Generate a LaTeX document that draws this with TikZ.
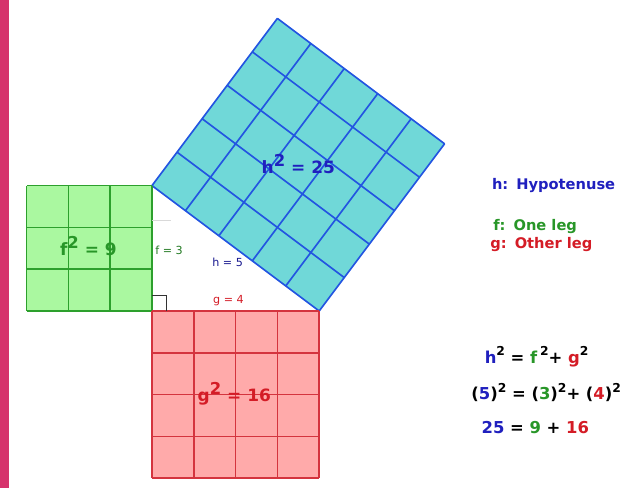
\documentclass[tikz,border=0pt]{standalone}
\usepackage{fontspec}
\setmainfont{DejaVu Sans}
\usetikzlibrary{positioning}

\definecolor{stripe}{RGB}{214,51,108}
\definecolor{hfill}{RGB}{112,216,216}
\definecolor{hline}{RGB}{35,85,225}
\definecolor{ffill}{RGB}{170,248,160}
\definecolor{fline}{RGB}{45,160,45}
\definecolor{gfill}{RGB}{255,170,170}
\definecolor{gline}{RGB}{212,52,62}
\definecolor{htext}{RGB}{32,32,190}
\definecolor{ftext}{RGB}{40,150,40}
\definecolor{gtext}{RGB}{212,28,38}

% raised square
\newcommand{\pw}[1]{\raisebox{0.85ex}{\fontsize{10.5}{10.5}\selectfont #1}}
\newcommand{\bigpw}[1]{\raisebox{0.75ex}{\fontsize{14}{14}\selectfont #1}}

\begin{document}
\begin{tikzpicture}[x=1.254cm, y=1.254cm,
    every node/.style={inner sep=0pt},
    sqlabel/.style={font=\fontsize{14.5}{17}\selectfont\bfseries},
    sidelabel/.style={font=\fontsize{9.5}{11}\selectfont},
    legend/.style={font=\fontsize{12.5}{15}\selectfont\bfseries, anchor=west},
    eqline/.style={font=\fontsize{14}{17}\selectfont\bfseries}]
    \useasboundingbox (-3.636,-4.234) rectangle (11.316,7.440);

    % Left stripe
    \fill[stripe] (-3.636,-4.234) rectangle (-3.42,7.440);

    % Square on h (hypotenuse)
    \begin{scope}[cm={0.8,-0.6,0.6,0.8,(0,3)}]
        \fill[hfill] (0,0) rectangle (5,5);
        \draw[hline, line width=1.4pt, step=1] (0,0) grid (5,5);
    \end{scope}

    % Square on f
    \fill[ffill] (-3,0) rectangle (0,3);
    \draw[fline, line width=1.4pt, step=1] (-3,0) grid (0,3);

    % Square on g
    \fill[gfill] (0,-4) rectangle (4,0);
    \draw[gline, line width=1.4pt, step=1] (0,-4) grid (4,0);

    % Right angle
    \draw[black!80, line width=1pt] (0,0.38) -- (0.35,0.38) -- (0.35,0);
    \draw[black!15, line width=0.6pt] (0,2.18) -- (0.45,2.18);

    % Labels in the squares
    \node[sqlabel, htext] (hsq) at (3.50,3.52) {h\bigpw{2} = 25};
    \node[sqlabel, ftext] (fsq) at (-1.52,1.55) {f\bigpw{2} = 9};
    \node[sqlabel, gtext] (gsq) at (1.97,-1.98) {g\bigpw{2} = 16};

    % Side labels
    \node[sidelabel, ftext!80!black] (fside) at (0.41,1.44) {f = 3};
    \node[sidelabel, htext!75!black] (hside) at (1.81,1.17) {h = 5};
    \node[sidelabel, gtext] (gside) at (1.83,0.25) {g = 4};

    % Legend
    \node[legend, htext] (hleg) at (8.13,3.01) {h:\hspace{0.55em}Hypotenuse};
    \node[legend, ftext] (fleg) at (8.16,2.01) {f:\hspace{0.55em}One leg};
    \node[legend, gtext] (gleg) at (8.09,1.58) {g:\hspace{0.55em}Other leg};

    % Equations
    \node[eqline] (eqA) at (9.20,-1.10) {\textcolor{htext}{h}\pw{2} = \textcolor{ftext}{f}\,\pw{2}+ \textcolor{gtext}{g}\pw{2}};
    \node[eqline] (eqB) at (9.43,-1.95) {(\textcolor{htext}{5})\pw{2} = (\textcolor{ftext}{3})\pw{2}+ (\textcolor{gtext}{4})\pw{2}};
    \node[eqline] (eqC) at (9.17,-2.78) {\textcolor{htext}{25} = \textcolor{ftext}{9} + \textcolor{gtext}{16}};
\end{tikzpicture}
\end{document}
